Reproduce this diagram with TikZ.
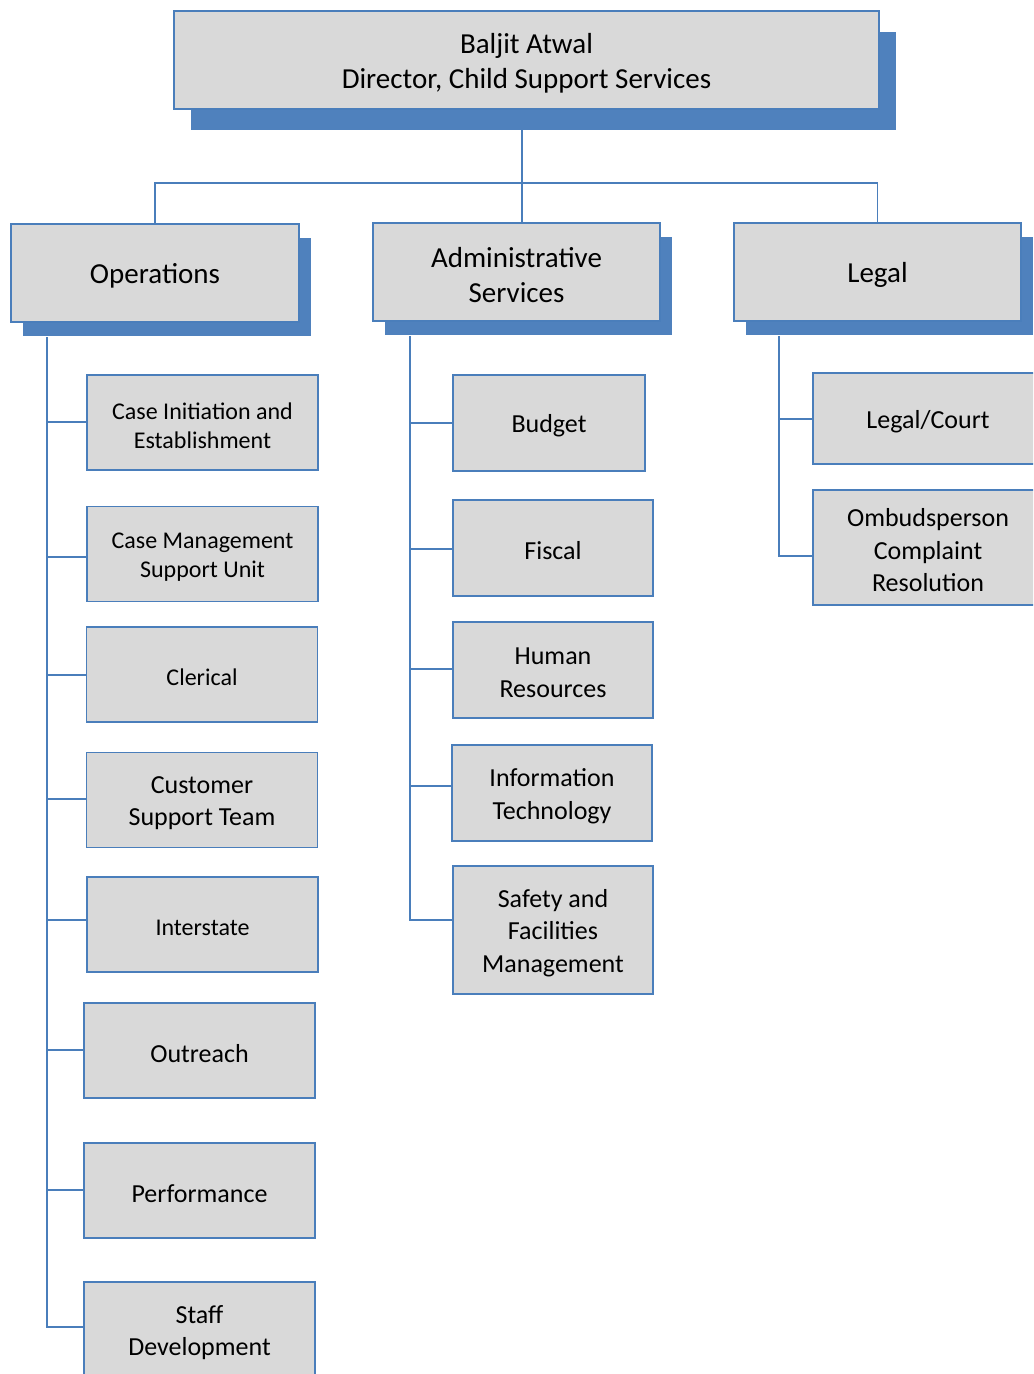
\documentclass[tikz,border=0pt]{standalone}
\usepackage{fontspec}
\setmainfont{Carlito}
\usetikzlibrary{shadows}
\definecolor{boxfill}{HTML}{D9D9D9}
\definecolor{boxline}{HTML}{4A7EBB}
\definecolor{shadc}{HTML}{4F81BD}
\tikzset{
  conn/.style={draw=boxline, line width=1.1pt},
  basebox/.style={rectangle, draw=boxline, fill=boxfill, line width=1.1pt, inner sep=0pt},
  bigbox/.style={basebox,
    drop shadow={shadow xshift=9pt, shadow yshift=-10.5pt, fill=shadc, opacity=1}},
  topbox/.style={basebox,
    drop shadow={shadow xshift=13pt, shadow yshift=-15.5pt, fill=shadc, opacity=1}},
  txt/.style={inner sep=0pt, align=center, text=black, yshift=-2.25pt},
  lbA/.style={label={[txt, font=\fontsize{21.75}{26.5}\selectfont]center:{#1}}},
  lbB/.style={label={[txt, font=\fontsize{19.5}{24.4}\selectfont]center:{#1}}},
  lbC/.style={label={[txt, font=\fontsize{18}{22}\selectfont]center:{#1}}},
  dims/.style 2 args={minimum width=#1*0.75pt, minimum height=#2*0.75pt}
}
\begin{document}
\begin{tikzpicture}[x=0.75pt, y=-0.75pt]
\useasboundingbox (0,0) rectangle (1033,1374);
\clip (0,0) rectangle (1033,1374);

% top
\node[topbox, dims={705}{98}, lbA={Baljit Atwal\\Director, Child Support Services}] (top) at (526.5,60) {};

% level 2
\node[bigbox, dims={288}{98}, lbA={Operations}] (ops) at (155,273) {};
\node[bigbox, dims={287}{98}, lbA={Administrative\\Services}] (adm) at (516.5,272) {};
\node[bigbox, dims={287}{98}, lbA={Legal}] (leg) at (877.5,272) {};

% connectors top -> level 2
\coordinate (topdrop) at (522,130);
\coordinate (bus) at (522,183);
\draw[conn] (topdrop) -- (topdrop |- adm.north);
\draw[conn] (ops.north) |- (bus) -| (leg.north);

% operations children
\node[basebox, dims={231}{95}, lbC={Case Initiation and\\Establishment}] (c1) at (202.5,422.5) {};
\node[basebox, dims={231}{95}, lbC={Case Management\\Support Unit}] (c2) at (202.5,554) {};
\node[basebox, dims={231}{95}, lbC={Clerical}] (c3) at (202,674.5) {};
\node[basebox, dims={231}{95}, lbB={Customer\\Support Team}] (c4) at (202,800) {};
\node[basebox, dims={231}{95}, lbC={Interstate}] (c5) at (202.5,924.5) {};
\node[basebox, dims={231}{95}, lbB={Outreach}] (c6) at (199.5,1050.5) {};
\node[basebox, dims={231}{95}, lbB={Performance}] (c7) at (199.5,1190.5) {};
\node[basebox, dims={231}{95}, lbB={Staff\\Development}] (c8) at (199.5,1329.5) {};

% admin children
\node[basebox, dims={192}{96}, lbB={Budget}] (a1) at (549,423) {};
\node[basebox, dims={200}{96}, lbB={Fiscal}] (a2) at (553,548) {};
\node[basebox, dims={200}{96}, lbB={Human\\Resources}] (a3) at (553,670) {};
\node[basebox, dims={200}{96}, lbB={Information\\Technology}] (a4) at (552,793) {};
\node[basebox, dims={200}{128}, lbB={Safety and\\Facilities\\Management}] (a5) at (553,930) {};

% legal children
\node[basebox, dims={230}{91}, lbB={Legal/Court}] (l1) at (928,418.5) {};
\node[basebox, dims={230}{115}, lbB={Ombudsperson\\Complaint\\Resolution}] (l2) at (928,547.5) {};

% operations trunk
\coordinate (ot) at (47,337);
\coordinate (ob1) at (47,422);
\coordinate (ob2) at (47,557);
\coordinate (ob3) at (47,675);
\coordinate (ob4) at (47,799);
\coordinate (ob5) at (47,920);
\coordinate (ob6) at (47,1050);
\coordinate (ob7) at (47,1190);
\coordinate (ob8) at (47,1327);
\draw[conn] (ot) -- (ob8) -- (ob8 -| c8.west);
\foreach \i in {1,...,7} {\draw[conn] (ob\i) -- (ob\i -| c\i.west);}

% admin trunk
\coordinate (at) at (410,336);
\coordinate (ab1) at (410,423);
\coordinate (ab2) at (410,549);
\coordinate (ab3) at (410,669);
\coordinate (ab4) at (410,786);
\coordinate (ab5) at (410,920);
\draw[conn] (at) -- (ab5) -- (ab5 -| a5.west);
\foreach \i in {1,...,4} {\draw[conn] (ab\i) -- (ab\i -| a\i.west);}

% legal trunk
\coordinate (lt) at (779,336);
\coordinate (lb1) at (779,419);
\coordinate (lb2) at (779,556);
\draw[conn] (lt) -- (lb2) -- (lb2 -| l2.west);
\draw[conn] (lb1) -- (lb1 -| l1.west);
\end{tikzpicture}
\end{document}
